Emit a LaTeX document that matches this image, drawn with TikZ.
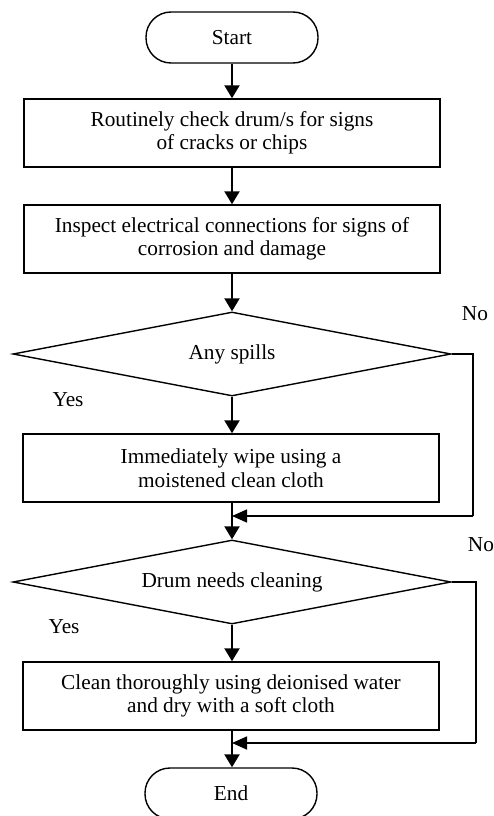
\documentclass[tikz,border=0pt]{standalone}
\usepackage{fontspec}
\setmainfont{Liberation Serif}
\usetikzlibrary{arrows.meta,shapes.geometric}
\tikzset{
  txt/.style={font=\fontsize{21.3}{23.5}\selectfont},
  term/.style={txt,draw,line width=1.4pt,rounded corners=25pt,minimum width=172pt,minimum height=51pt,inner sep=0pt},
  stepbox/.style={txt,draw,line width=1.5pt,minimum width=416pt,minimum height=68pt,inner sep=0pt,align=center,execute at begin node={\rule{0pt}{20pt}}},
  decision/.style={txt,draw,line width=1.4pt,diamond,aspect=5,minimum width=438pt,minimum height=84pt,inner sep=0pt},
  arr/.style={line width=2.3pt,-{Triangle[width=15pt,length=13pt]}},
  fb/.style={line width=1.6pt},
  fbarr/.style={line width=1.6pt,-{Triangle[width=13pt,length=15pt]}},
  lbl/.style={txt,inner sep=0pt}
}
\begin{document}
\begin{tikzpicture}[x=1pt,y=-1pt]
\useasboundingbox[fill=white] (0,0) rectangle (494,816);
\node[term] (start) at (232,37.5) {Start};
\node[stepbox] (b1) at (232,133) {Routinely check drum/s for signs\\of cracks or chips};
\node[stepbox] (b2) at (232,239) {Inspect electrical connections for signs of\\corrosion and damage};
\node[decision] (d1) at (232,354) {Any spills};
\node[stepbox] (b3) at (231,468) {Immediately wipe using a\\moistened clean cloth};
\node[decision] (d2) at (232,582) {Drum needs cleaning};
\node[stepbox] (b4) at (231,696) {Clean thoroughly using deionised water\\and dry with a soft cloth};
\node[term] (end) at (231,793.5) {End};
\node[lbl] (no1) at (475,314) {No};
\node[lbl] (yes1) at (68,400) {Yes};
\node[lbl] (no2) at (481,545) {No};
\node[lbl] (yes2) at (64,627) {Yes};
\coordinate (j1) at (232,516);
\coordinate (r1) at (473,516);
\coordinate (j2) at (232,743);
\coordinate (r2) at (476,743);
\draw[arr] (start) -- (b1);
\draw[arr] (b1) -- (b2);
\draw[arr] (b2) -- (d1);
\draw[arr] (d1) -- (b3.north -| d1.south);
\draw[arr] (b3.south -| d1.south) -- (d2);
\draw[arr] (d2) -- (b4.north -| d2.south);
\draw[arr] (b4.south -| d2.south) -- (end.north -| d2.south);
\draw[fb] (d1.east) -| (r1);
\draw[fbarr] (r1) -- (j1);
\draw[fb] (d2.east) -| (r2);
\draw[fbarr] (r2) -- (j2);
\end{tikzpicture}
\end{document}
